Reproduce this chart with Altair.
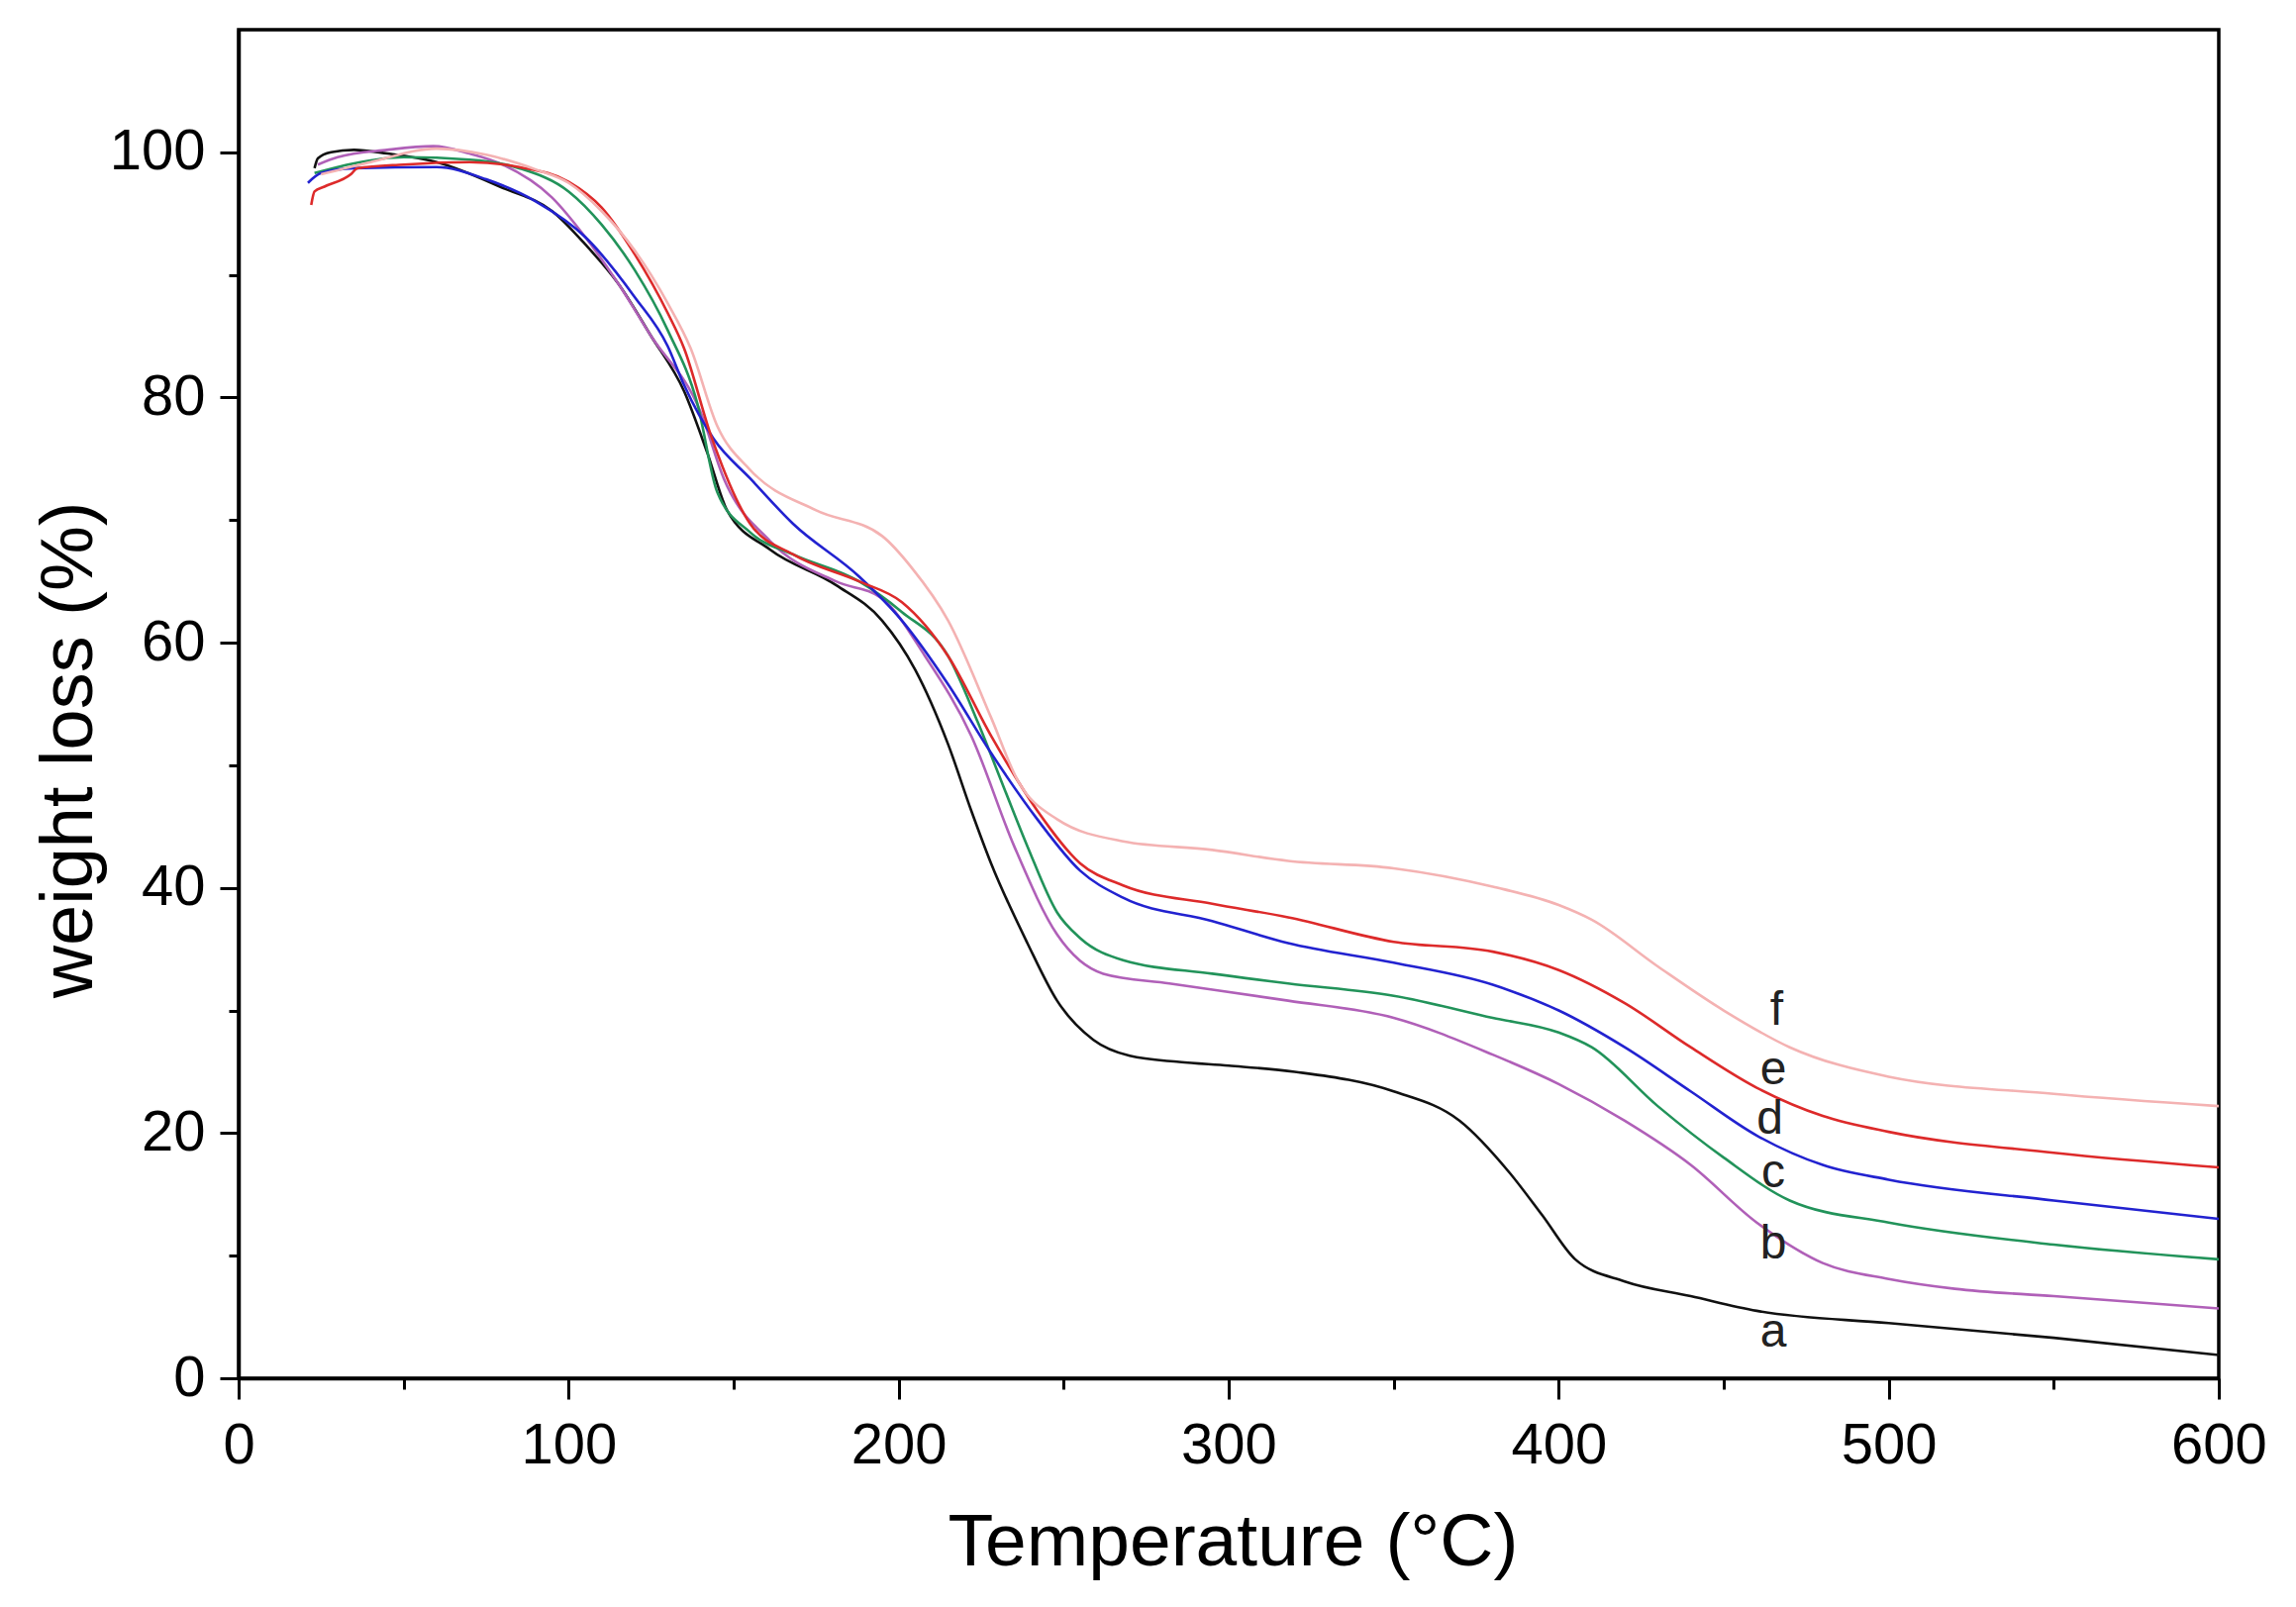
import altair as alt
import pandas as pd

# ---- data ----
series_names = ["a", "b", "c", "d", "e", "f"]
series_colors = ["#111111", "#b060b8", "#22935a", "#2222d0", "#dd2a2a", "#f4b2b2"]

t_a = [23, 24, 28, 35, 45, 60, 80, 95, 105, 115, 125, 135, 142, 148, 161, 181, 195, 205, 215, 222, 228, 239, 248, 259, 270, 285, 300, 320, 350, 370, 385, 395, 405, 420, 440, 460, 500, 550, 600]
w_a = [98.7, 99.5, 100.0, 100.2, 99.9, 99.2, 97.1, 95.2, 92.5, 89.3, 85.0, 80.5, 75.5, 70.8, 67.6, 64.7, 61.8, 57.8, 51.7, 46.3, 42.0, 35.5, 30.8, 27.6, 26.3, 25.8, 25.5, 25.0, 23.4, 21.0, 16.8, 13.3, 9.7, 7.9, 6.7, 5.5, 4.5, 3.3, 1.9]

t_b = [24, 30, 45, 59, 70, 80, 95, 105, 115, 125, 140, 147, 161, 181, 195, 208, 222, 235, 248, 262, 282, 318, 350, 380, 400, 420, 440, 460, 480, 500, 520, 550, 600]
w_b = [99.0, 99.6, 100.2, 100.5, 99.9, 99.0, 96.3, 93.1, 89.3, 85.0, 78.8, 73.4, 68.3, 65.0, 63.6, 58.9, 52.4, 43.4, 36.2, 33.0, 32.2, 30.8, 29.4, 26.4, 24.0, 21.0, 17.4, 12.7, 9.4, 8.1, 7.3, 6.7, 5.7]

t_c = [23, 35, 50, 70, 85, 100, 110, 120, 130, 139, 145, 155, 168, 188, 201, 215, 224, 232, 239, 248, 255, 268, 295, 318, 350, 380, 400, 410, 430, 450, 470, 500, 550, 600]
w_c = [98.3, 99.1, 99.6, 99.4, 98.7, 96.8, 94.1, 90.4, 85.5, 79.5, 72.3, 69.0, 67.2, 65.0, 62.5, 58.9, 53.5, 48.1, 43.4, 38.0, 35.9, 34.1, 33.0, 32.2, 31.2, 29.4, 28.2, 27.0, 22.2, 18.0, 14.5, 12.7, 10.9, 9.7]

t_d = [21, 25, 35, 60, 75, 90, 105, 120, 130, 135, 144, 155, 168, 188, 201, 215, 228, 242, 255, 268, 295, 318, 350, 380, 400, 420, 440, 460, 480, 500, 550, 600]
w_d = [97.5, 98.3, 98.7, 98.8, 97.8, 96.0, 93.1, 88.2, 84.2, 81.0, 76.6, 73.4, 69.7, 65.4, 61.8, 56.6, 51.0, 45.6, 41.4, 39.2, 37.3, 35.5, 33.9, 32.1, 30.0, 27.0, 23.4, 19.8, 17.4, 16.2, 14.5, 13.0]

t_e = [22, 23, 26, 34, 36, 50, 70, 85, 100, 110, 120, 130, 135, 143, 155, 168, 188, 201, 215, 228, 242, 255, 268, 295, 318, 350, 380, 400, 420, 440, 460, 480, 500, 550, 600]
w_e = [95.7, 96.8, 97.2, 98.2, 98.7, 99.0, 99.2, 98.8, 97.6, 95.5, 91.7, 86.9, 84.0, 77.0, 69.7, 67.2, 65.0, 63.3, 58.9, 52.4, 46.3, 42.0, 40.2, 38.7, 37.6, 35.6, 34.8, 33.3, 30.6, 27.0, 23.7, 21.4, 20.1, 18.4, 17.2]

t_f = [25, 40, 60, 75, 90, 100, 110, 120, 130, 137, 145, 155, 175, 195, 204, 215, 228, 236, 248, 268, 295, 318, 350, 380, 400, 410, 430, 450, 470, 500, 550, 600]
w_f = [98.2, 99.2, 100.3, 99.8, 98.6, 97.5, 95.2, 92.0, 87.7, 84.0, 77.7, 74.1, 70.8, 68.7, 66.1, 61.8, 53.9, 48.8, 45.6, 43.8, 43.1, 42.2, 41.6, 40.1, 38.6, 37.4, 33.6, 30.0, 27.0, 24.6, 23.2, 22.2]

label_t = [465, 465, 465, 464, 465, 466]
label_w = [3.7, 10.9, 16.7, 21.1, 25.1, 30.0]

x_ticks = [0, 50, 100, 150, 200, 250, 300, 350, 400, 450, 500, 550, 600]
y_ticks = [0, 10, 20, 30, 40, 50, 60, 70, 80, 90, 100]

# ---- build tables ----
all_t = [t_a, t_b, t_c, t_d, t_e, t_f]
all_w = [w_a, w_b, w_c, w_d, w_e, w_f]
rows = []
for name, ts, ws in zip(series_names, all_t, all_w):
    for t, w in zip(ts, ws):
        rows.append({"series": name, "T": t, "W": w})
df = pd.DataFrame(rows)
labels = pd.DataFrame({"series": series_names, "T": label_t, "W": label_w})

FONT = "Liberation Sans"

x_scale = alt.Scale(domain=[0, 600], nice=False, zero=False)
y_scale = alt.Scale(domain=[0, 110], nice=False, zero=False)
color_scale = alt.Scale(domain=series_names, range=series_colors)

x_axis = alt.Axis(
    title="Temperature (°C)",
    values=x_ticks,
    labelExpr="datum.value % 100 === 0 ? datum.label : ''",
    tickSize={"condition": {"test": "datum.value % 100 === 0", "value": 21}, "value": 11},
    tickWidth=3, tickColor="black",
    domainWidth=3.5, domainColor="black",
    labelFont=FONT, labelFontSize=58, labelColor="black", labelPadding=18,
    labelFlush=False,
    titleFont=FONT, titleFontSize=75, titleFontWeight="normal", titleColor="black",
    titleX=1004, titleY=188, titleBaseline="alphabetic",
    grid=False,
)
y_axis = alt.Axis(
    title="weight loss (%)",
    values=y_ticks,
    labelExpr="datum.value % 20 === 0 ? datum.label : ''",
    tickSize={"condition": {"test": "datum.value % 20 === 0", "value": 19}, "value": 10},
    tickWidth=3, tickColor="black",
    domainWidth=3.5, domainColor="black",
    labelFont=FONT, labelFontSize=58, labelColor="black", labelPadding=15,
    labelFlush=False,
    titleFont=FONT, titleFontSize=74, titleFontWeight="normal", titleColor="black",
    titleX=-149, titleY=727, titleBaseline="alphabetic",
    grid=False,
)

lines = alt.Chart(df).mark_line(strokeWidth=2.6, interpolate="monotone").encode(
    x=alt.X("T:Q", scale=x_scale, axis=x_axis),
    y=alt.Y("W:Q", scale=y_scale, axis=y_axis),
    color=alt.Color("series:N", scale=color_scale, legend=None),
    detail="series:N",
)

texts = alt.Chart(labels).mark_text(
    font=FONT, fontSize=48, color="#222222", align="center", baseline="middle"
).encode(
    x=alt.X("T:Q", scale=x_scale),
    y=alt.Y("W:Q", scale=y_scale),
    text="series:N",
)

chart = alt.layer(lines, texts).properties(
    width=2000,
    height=1362,
    autosize=alt.AutoSizeParams(type="none"),
    padding={"left": 233, "top": 22, "right": 70, "bottom": 223},
).configure(
    background="white",
    view=alt.ViewConfig(stroke="black", strokeWidth=3.5),
)

chart.save("out.html", embed_options={"renderer": "svg", "actions": False})
